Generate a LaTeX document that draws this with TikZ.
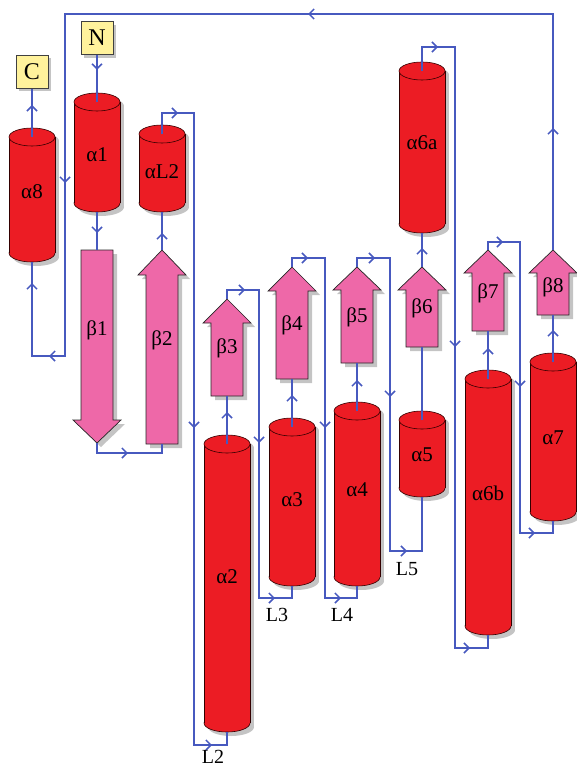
\documentclass[tikz,border=0pt]{standalone}
\usepackage{fontspec}
\setmainfont{Liberation Serif}
\usetikzlibrary{arrows.meta,decorations.markings}
\definecolor{hred}{HTML}{EC1C24}
\definecolor{spink}{HTML}{EE68A8}
\definecolor{lblue}{HTML}{4759BF}
\definecolor{tyell}{HTML}{FFF29C}
\definecolor{shad}{HTML}{C4C4C4}
\tikzset{
  conn/.style={draw=lblue, line width=1.5pt, line join=miter},
  arr/.style={postaction={decorate,decoration={markings,
      mark=at position #1 with {\arrow{Straight Barb[length=5pt,width=10pt]}}}}},
  lab/.style={font=\fontsize{21}{24}\selectfont, inner sep=0pt},
  llab/.style={font=\fontsize{20}{23}\selectfont, inner sep=0pt},
  hfill/.style={fill=hred, draw=black!80!red, line width=0.6pt},
  hline/.style={draw=black!80!red, line width=0.6pt},
  sfill/.style={fill=spink, draw=black!85, line width=0.7pt},
  tbox/.style={fill=tyell, draw=black!75, line width=0.7pt, minimum width=32pt,
      minimum height=33pt, inner sep=0pt, font=\fontsize{24}{26}\selectfont},
}
% #1 name, #2 cx, #3 top, #4 bottom, #5 label y, #6 label
\newcommand\helix[6]{%
  \begin{scope}[shift={(4,4)}]
    \fill[shad] ({#2-23},{#3+9}) rectangle ({#2+23},{#4-9});
    \fill[shad] (#2,{#3+9}) ellipse [x radius=23, y radius=9];
    \fill[shad] (#2,{#4-9}) ellipse [x radius=23, y radius=9];
  \end{scope}
  \filldraw[hfill] (#2,{#4-9}) ellipse [x radius=23, y radius=9];
  \fill[hred] ({#2-23},{#3+9}) rectangle ({#2+23},{#4-9});
  \draw[hline] ({#2-23},{#3+9}) -- ({#2-23},{#4-9}) ({#2+23},{#3+9}) -- ({#2+23},{#4-9});
  \filldraw[hfill] (#2,{#3+9}) ellipse [x radius=23, y radius=9];
  \node[lab] (#1) at (#2,#5) {#6};
  \coordinate (#1t) at (#2,{#3+9});
  \coordinate (#1b) at (#2,#4);
}
% #1 name, #2 cx, #3 tip, #4 head base, #5 tail end, #6 label y, #7 label
\newcommand\strand[7]{%
  \fill[shad,shift={(4,4)}] (#2,#3) -- ({#2+24},#4) -- ({#2+16},#4) -- ({#2+16},#5)
     -- ({#2-16},#5) -- ({#2-16},#4) -- ({#2-24},#4) -- cycle;
  \filldraw[sfill] (#2,#3) -- ({#2+24},#4) -- ({#2+16},#4) -- ({#2+16},#5)
     -- ({#2-16},#5) -- ({#2-16},#4) -- ({#2-24},#4) -- cycle;
  \node[lab] (#1) at (#2,#6) {#7};
  \coordinate (#1t) at (#2,#3);
  \coordinate (#1b) at (#2,#5);
}
\begin{document}
\begin{tikzpicture}[x=1pt,y=-1pt]
\useasboundingbox (0,0) rectangle (577,767);
% terminal boxes
\fill[shad] (19,58) rectangle (51,91);
\node[tbox] (C) at (32,72) {C};
\fill[shad] (84,25) rectangle (116,58);
\node[tbox] (N) at (97,38) {N};
% helices
\helix{a8}{32}{128}{262}{192}{α8}
\helix{a1}{97}{93}{212}{155}{α1}
\helix{aL2}{162}{125}{212}{172}{αL2}
\helix{a2}{227}{435}{732}{577}{α2}
\helix{a3}{292}{418}{586}{500}{α3}
\helix{a4}{357}{402}{586}{490}{α4}
\helix{a5}{422}{411}{497}{455}{α5}
\helix{a6a}{422}{62}{233}{143}{α6a}
\helix{a6b}{488}{370}{635}{493}{α6b}
\helix{a7}{553}{353}{521}{438}{α7}
% strands
\strand{b1}{97}{443}{420}{250}{330}{β1}
\strand{b2}{162}{250}{275}{444}{340}{β2}
\strand{b3}{227}{299}{323}{396}{348}{β3}
\strand{b4}{292}{267}{291}{379}{325}{β4}
\strand{b5}{357}{267}{290}{363}{317}{β5}
\strand{b6}{422}{267}{290}{347}{308}{β6}
\strand{b7}{488}{250}{273}{331}{293}{β7}
\strand{b8}{553}{250}{273}{315}{287}{β8}
% connectors
\draw[conn, arr=15pt] (N.south) -- (a1t);
\draw[conn, arr=21pt] (a1b) -- (b1b);
\draw[conn, arr=41pt] (b1t) -- ++(0,10) -| (b2b);
\draw[conn, arr=17pt] (b2t) -- (aL2b);
\draw[conn, arr=37pt, arr=368pt, arr=703pt] (aL2t) |- (194,113) -- (194,745) -| (a2b);
\draw[conn, arr=32pt] (a2t) -- (b3b);
\draw[conn, arr=27pt, arr=194pt, arr=365pt] (b3t) |- (259,290) -- (259,598) -| (a3b);
\draw[conn, arr=32pt] (a3t) -- (b4b);
\draw[conn, arr=25pt, arr=212pt, arr=398pt] (b4t) |- (325,258) -- (325,598) -| (a4b);
\draw[conn, arr=31pt] (a4t) -- (b5b);
\draw[conn, arr=27pt, arr=181pt, arr=352pt] (b5t) |- (390,258) -- (390,551) -| (a5b);
\draw[conn] (a5t) -- (b6b);
\draw[conn, arr=19pt] (b6t) -- (a6ab);
\draw[conn, arr=40pt, arr=357pt, arr=673pt] (a6at) |- (455,47) -- (455,648) -| (a6bb);
\draw[conn, arr=31pt] (a6bt) -- (b7b);
\draw[conn, arr=23pt, arr=185pt, arr=346pt] (b7t) |- (520,242) -- (520,533) -| (a7b);
\draw[conn, arr=32pt] (a7t) -- (b8b);
\draw[conn, arr=122pt, arr=481pt, arr=893pt, arr=1082pt, arr=1172pt] (b8t) |- (65,14) -- (65,356) -| (a8b);
\draw[conn, arr=32pt] (a8t) -- (C.south);
% loop labels
\node[llab] (L2) at (213,757) {L2};
\node[llab] (L3) at (277,615) {L3};
\node[llab] (L4) at (342,615) {L4};
\node[llab] (L5) at (407,569) {L5};
\end{tikzpicture}
\end{document}
